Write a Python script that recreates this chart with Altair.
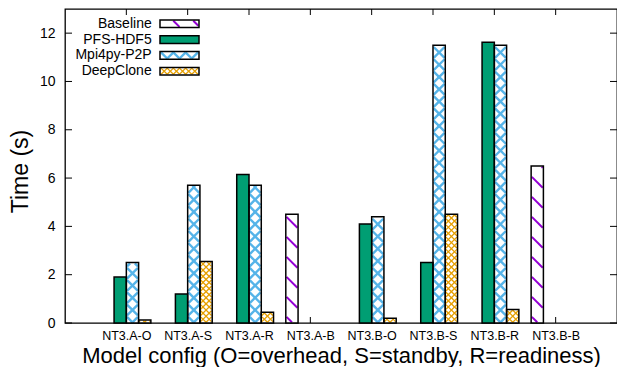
import math
import altair as alt
import pandas as pd

# ---------------- data ----------------
categories = ["NT3.A-O", "NT3.A-S", "NT3.A-R", "NT3.A-B",
              "NT3.B-O", "NT3.B-S", "NT3.B-R", "NT3.B-B"]
series = ["Baseline", "PFS-HDF5", "Mpi4py-P2P", "DeepClone"]
baseline = [None, None, None, 4.5, None, None, None, 6.5]
pfs_hdf5 = [1.9, 1.2, 6.15, None, 4.1, 2.5, 11.62, None]
mpi4py_p2p = [2.5, 5.7, 5.7, None, 4.4, 11.5, 11.5, None]
deepclone = [0.12, 2.55, 0.45, None, 0.2, 4.5, 0.56, None]
y_ticks = [0, 2, 4, 6, 8, 10, 12]

# ---------------- layout / style ----------------
FONT = "Liberation Sans"
W, H = 552, 314
XD = (-1, 8)
YD = (0, 13)
BAR = 0.2  # bar width in group units
BAR_PX = BAR / (XD[1] - XD[0]) * W

fills = ["white", "#009E73", "white", "white"]
hatch_style = {
    "Baseline":   dict(color="#9400D3", width=2.0, fams=[(1, 20.0)]),
    "Mpi4py-P2P": dict(color="#56B4E9", width=2.4, fams=[(1, BAR_PX), (-1, BAR_PX)]),
    "DeepClone":  dict(color="#E69F00", width=1.3, fams=[(1, BAR_PX / 2), (-1, BAR_PX / 2)]),
}


def px_x(v):
    return (v - XD[0]) / (XD[1] - XD[0]) * W


def px_y(v):
    return H - (v - YD[0]) / (YD[1] - YD[0]) * H


def dx(p):
    return XD[0] + p / W * (XD[1] - XD[0])


def dy(p):
    return YD[0] + (H - p) / H * (YD[1] - YD[0])


def hatch(l, r, t, b, d, s):
    """45-degree line family clipped to a pixel rectangle; returns pixel segments."""
    xc = (l + r) / 2
    c0 = (b - xc) if d == 1 else (b + xc)
    if d == 1:
        cmin, cmax = t - r, b - l
    else:
        cmin, cmax = t + l, b + r
    out = []
    for k in range(math.floor((cmin - c0) / s) - 1, math.ceil((cmax - c0) / s) + 2):
        c = c0 + k * s
        if d == 1:
            xlo, xhi = max(l, t - c), min(r, b - c)
            if xhi - xlo > 0.4:
                out.append((xlo, xlo + c, xhi, xhi + c))
        else:
            xlo, xhi = max(l, c - b), min(r, c - t)
            if xhi - xlo > 0.4:
                out.append((xlo, c - xlo, xhi, c - xhi))
    return out


values = dict(zip(series, [baseline, pfs_hdf5, mpi4py_p2p, deepclone]))

# bars table
rows = []
for j, s in enumerate(series):
    for i, v in enumerate(values[s]):
        if v is None:
            continue
        x0 = i + (j - 2) * BAR
        rows.append(dict(series=s, x0=x0, x1=x0 + BAR, y0=0.0, y1=v))
bars = pd.DataFrame(rows)

# legend table (key at top-left, as in the reference)
leg_rows = []
for j, s in enumerate(series):
    cy = 14.8 + 15.8 * j
    leg_rows.append(dict(series=s, tx=dx(86.7), x0=dx(95), x1=dx(134),
                         y0=dy(cy + 3.8), y1=dy(cy - 3.8), ty=dy(cy)))
legend = pd.DataFrame(leg_rows)

# hatch segments for bars and legend boxes
hrows = []
for df in (bars, legend):
    for _, r in df.iterrows():
        if r.series not in hatch_style:
            continue
        l, rr = px_x(r.x0) + 0.7, px_x(r.x1) - 0.7
        t, b = px_y(r.y1) + 0.7, px_y(r.y0) - 0.7
        for d, sp in hatch_style[r.series]["fams"]:
            for (ax, ay, bx, by) in hatch(l, rr, t, b, d, sp):
                hrows.append(dict(series=r.series, hx=dx(ax), hy=dy(ay),
                                  hx2=dx(bx), hy2=dy(by)))
hatches = pd.DataFrame(hrows)

xscale = alt.Scale(domain=list(XD), nice=False, zero=False)
yscale = alt.Scale(domain=list(YD), nice=False, zero=False)
fillscale = alt.Scale(domain=series, range=fills)

label_expr = "[" + ",".join("'%s'" % c for c in categories) + "][datum.value]"
xaxis = alt.Axis(values=list(range(len(categories))), labelExpr=label_expr,
                 ticks=False, tickSize=0, domain=False, grid=False,
                 labelFontSize=12.5, labelPadding=6, labelColor="black",
                 labelOverlap=False, labelFlush=False, labelFont=FONT,
                 title="Model config (O=overhead, S=standby, R=readiness)",
                 titleFontSize=22, titleFontWeight="normal", titleColor="black",
                 titleFont=FONT, titleBaseline="alphabetic", titleY=39)
yaxis = alt.Axis(values=y_ticks, ticks=False, tickSize=0, domain=False, grid=False,
                 labelFontSize=14, labelPadding=10, labelColor="black", labelFont=FONT,
                 title="Time (s)", titleFontSize=23, titleFontWeight="normal",
                 titleColor="black", titleFont=FONT, titleBaseline="alphabetic",
                 titleAngle=270, titleAlign="center", titleX=-37.3, titleY=H / 2 + 5)

tick_df = pd.DataFrame({"t": y_ticks})
cat_df = pd.DataFrame({"i": list(range(len(categories)))})


def X(f):
    return alt.X(f, scale=xscale, axis=xaxis)


def Y(f):
    return alt.Y(f, scale=yscale, axis=yaxis)


yt_left = alt.Chart(tick_df).mark_rule(color="black", strokeWidth=1).encode(
    y=Y("t:Q"), x=alt.value(0), x2=alt.value(7))
yt_right = alt.Chart(tick_df).mark_rule(color="black", strokeWidth=1).encode(
    y=Y("t:Q"), x=alt.value(W - 7), x2=alt.value(W))
xt_bot = alt.Chart(cat_df).mark_rule(color="black", strokeWidth=1).encode(
    x=X("i:Q"), y=alt.value(H), y2=alt.value(H - 6))
xt_top = alt.Chart(cat_df).mark_rule(color="black", strokeWidth=1).encode(
    x=X("i:Q"), y=alt.value(0), y2=alt.value(6))

bar_fill = alt.Chart(bars).mark_rect(strokeWidth=0).encode(
    x=X("x0:Q"), x2="x1:Q", y=Y("y1:Q"), y2="y0:Q",
    fill=alt.Fill("series:N", scale=fillscale, legend=None))

leg_fill = alt.Chart(legend).mark_rect(strokeWidth=0).encode(
    x=X("x0:Q"), x2="x1:Q", y=Y("y1:Q"), y2="y0:Q",
    fill=alt.Fill("series:N", scale=fillscale, legend=None))

hatch_layers = []
for s, st in hatch_style.items():
    hatch_layers.append(
        alt.Chart(hatches[hatches.series == s]).mark_rule(
            color=st["color"], strokeWidth=st["width"], strokeCap="butt").encode(
            x=X("hx:Q"), x2="hx2:Q", y=Y("hy:Q"), y2="hy2:Q"))

bar_line = alt.Chart(bars).mark_rect(fillOpacity=0, stroke="black", strokeWidth=1.5).encode(
    x=X("x0:Q"), x2="x1:Q", y=Y("y1:Q"), y2="y0:Q")
leg_line = alt.Chart(legend).mark_rect(fillOpacity=0, stroke="black", strokeWidth=1.5).encode(
    x=X("x0:Q"), x2="x1:Q", y=Y("y1:Q"), y2="y0:Q")
leg_text = alt.Chart(legend).mark_text(align="right", baseline="middle", fontSize=14,
                                      font=FONT, color="black").encode(
    x=X("tx:Q"), y=Y("ty:Q"), text="series:N")

chart = alt.layer(
    yt_left, yt_right, xt_bot, xt_top,
    bar_fill, leg_fill, *hatch_layers, bar_line, leg_line, leg_text
).properties(
    width=W, height=H, autosize="none",
    padding={"left": 57, "top": 1, "right": 0, "bottom": 44},
    background="white",
).configure_view(stroke="black", strokeWidth=1.3)

chart.save("out.html", embed_options={"renderer": "svg", "actions": False})
